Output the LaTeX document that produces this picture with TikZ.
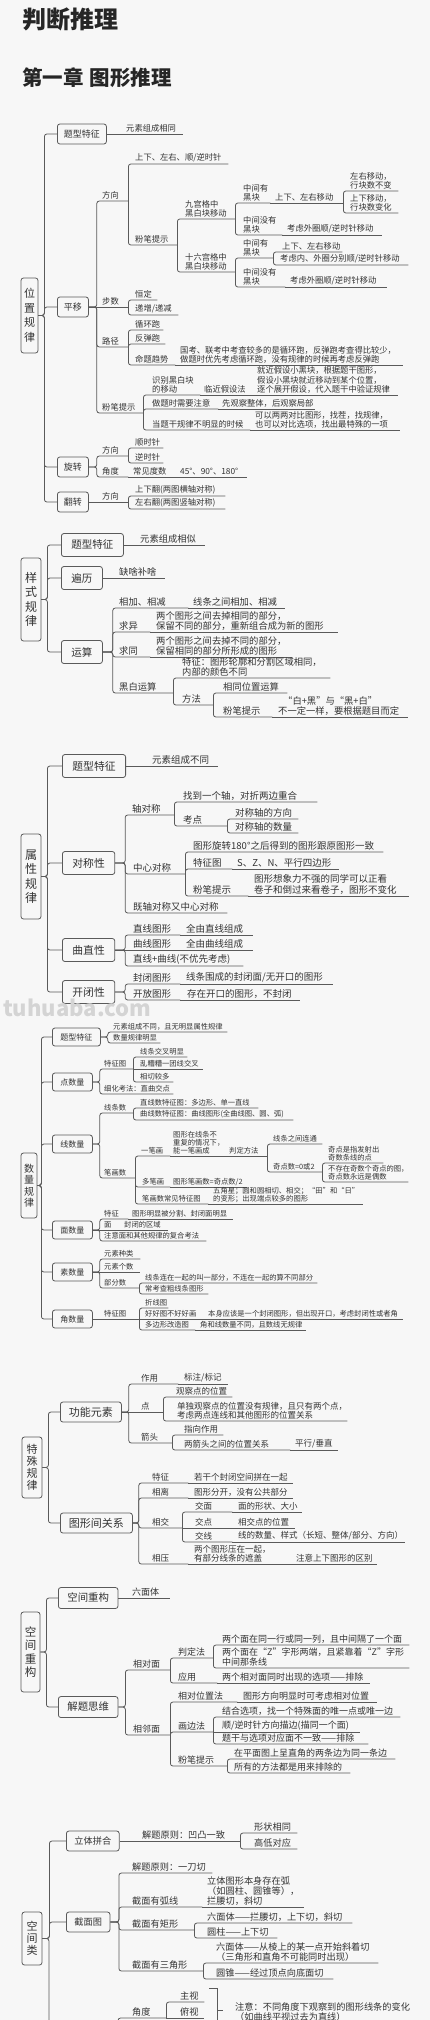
\documentclass[tikz,border=0pt]{standalone}
\usepackage{fontspec}
\setmainfont{Noto Sans CJK SC}
\definecolor{ln}{HTML}{5A5A5A}
\definecolor{txt}{HTML}{333333}
\definecolor{bgc}{HTML}{F7F7F7}
\definecolor{wmc}{HTML}{D4D4D4}
\newcommand\fsz[2]{\fontsize{#1}{#2}\selectfont}
\begin{document}
\begin{tikzpicture}[
  x=1pt, y=-1pt,
  tp/.style={anchor=south west, inner xsep=0pt, inner ysep=1.5pt, align=left, text=txt},
  bx/.style={draw=ln, line width=0.8pt, rounded corners=2.5pt, anchor=west, text=txt},
  rootbox/.style={draw=ln, line width=0.8pt, rounded corners=2.5pt, inner sep=0pt, align=center, text=txt},
  conn/.style={draw=ln, line width=0.8pt, rounded corners=2.5pt},
  ttl/.style={anchor=base west, inner sep=0pt, text=black!85}
]
\useasboundingbox (0,0) rectangle (430,2020);
\fill[bgc] (0,0) rectangle (430,2020);

\node (t1) [ttl, font=\fsz{24}{26}\bfseries] at (22,29) {判断推理};
\node (t2) [ttl, font=\fsz{20.5}{22}\bfseries] at (22,86) {第一章\hspace{6pt}图形推理};

\begin{scope}[tp/.append style={font=\fsz{8.3}{9.3}}, bx/.append style={font=\fsz{9}{10}, inner xsep=6.5pt, minimum height=20pt}]
\node (aR) [rootbox, minimum width=17pt, minimum height=75pt, font=\fsz{11}{14.5}] at (29.5,315.5) {位\\置\\规\\律};
\node (aT) [bx] at (57,134) {题型特征};
\node (aP) [bx] at (57,307) {平移};
\node (aX) [bx] at (57,467) {旋转};
\node (aF) [bx] at (57,502) {翻转};
\foreach \n in {aT,aP,aX,aF} \draw[conn] (aR.east) -- ++(6,0) |- (\n.west);

\node (aT1) [tp, text width=57pt] at (126,134) {元素组成相同};
\draw[conn] (aT.east) -- (aT1.south east);

\node (aP1) [tp, text width=26pt] at (102,201) {方向};
\node (aP2) [tp, text width=26pt] at (102,307) {步数};
\node (aP3) [tp, text width=26pt] at (102,347) {路径};
\node (aP4) [tp, text width=41pt] at (102,413) {粉笔提示};
\foreach \n in {aP1,aP3,aP4} \draw[conn] (aP.east) -- ++(8,0) |- (\n.south east);
\draw[conn] (aP.east) -- (aP2.south east);

\node (aP11) [tp, text width=93pt] at (135,164) {上下、左右、顺/逆时针};
\node (aP12) [tp, text width=42pt] at (135,245) {粉笔提示};
\foreach \n in {aP11,aP12} \draw[conn] (aP1.south east) |- (\n.south east);
\node (aP121) [tp, text width=50pt] at (185,219) {九宫格中\\黑白块移动};
\node (aP122) [tp, text width=50pt] at (185,272) {十六宫格中\\黑白块移动};
\foreach \n in {aP121,aP122} \draw[conn] (aP12.south east) |- (\n.south east);
\node (aP1211) [tp, text width=27pt] at (243,203) {中间有\\黑块};
\node (aP1212) [tp, text width=39pt] at (243,235) {中间没有\\黑块};
\foreach \n in {aP1211,aP1212} \draw[conn] (aP121.south east) |- (\n.south east);
\node (aQ1) [tp, text width=68pt] at (275,203) {上下、左右移动};
\draw[conn] (aP1211.south east) -- (aQ1.south east);
\node (aQ11) [tp, text width=48pt] at (350,191) {左右移动，\\行块数不变};
\node (aQ12) [tp, text width=48pt] at (350,213) {上下移动，\\行块数变化};
\foreach \n in {aQ11,aQ12} \draw[conn] (aQ1.south east) |- (\n.south east);
\node (aQ2) [tp, text width=95pt] at (287,235) {考虑外圈顺/逆时针移动};
\draw[conn] (aP1212.south east) -- (aQ2.south east);
\node (aP1221) [tp, text width=30pt] at (243,258) {中间有\\黑块};
\node (aP1222) [tp, text width=42pt] at (243,287) {中间没有\\黑块};
\foreach \n in {aP1221,aP1222} \draw[conn] (aP122.south east) |- (\n.south east);
\node (aQ3) [tp, text width=60pt] at (282,252) {上下、左右移动};
\node (aQ4) [tp, text width=128pt] at (280,265) {考虑内、外圈分别顺/逆时针移动};
\foreach \n in {aQ3,aQ4} \draw[conn] (aP1221.south east) |- (\n.south east);
\node (aQ5) [tp, text width=97pt] at (290,287) {考虑外圈顺/逆时针移动};
\draw[conn] (aP1222.south east) -- (aQ5.south east);

\node (aP21) [tp, text width=22pt] at (135,300) {恒定};
\node (aP22) [tp, text width=43pt] at (135,315) {递增/递减};
\foreach \n in {aP21,aP22} \draw[conn] (aP2.south east) |- (\n.south east);
\node (aP31) [tp, text width=28pt] at (135,330) {循环跑};
\node (aP32) [tp, text width=30pt] at (135,344) {反弹跑};
\node (aP33) [tp, text width=40pt] at (135,365) {命题趋势};
\foreach \n in {aP31,aP32,aP33} \draw[conn] (aP3.south east) |- (\n.south east);
\node (aP331) [tp, text width=223pt] at (180,365) {国考、联考中考查较多的是循环跑，反弹跑考查得比较少，\\做题时优先考虑循环跑，没有规律的时候再考虑反弹跑};
\draw[conn] (aP33.south east) -- (aP331.south east);

\node (aP41) [tp, text width=48pt] at (152,395) {识别黑白块\\的移动};
\node (aP42) [tp, text width=66pt] at (152,409) {做题时需要注意};
\node (aP43) [tp, text width=98pt] at (152,430) {当题干规律不明显的时候};
\foreach \n in {aP41,aP42,aP43} \draw[conn] (aP4.south east) |- (\n.south east);
\node (aP411) [tp, text width=49pt] at (204,395) {临近假设法};
\node (aP412) [tp, text width=141pt] at (257,395) {就近假设小黑块，根据题干图形，\\假设小黑块就近移动到某个位置，\\逐个展开假设，代入题干中验证规律};
\draw[conn] (aP41.south east) -- (aP411.south east);
\draw[conn] (aP411.south east) -- (aP412.south east);
\node (aP421) [tp, text width=93pt] at (222,409) {先观察整体，后观察局部};
\draw[conn] (aP42.south east) -- (aP421.south east);
\node (aP431) [tp, text width=145pt] at (255,430) {可以两两对比图形，找茬，找规律，\\也可以对比选项，找出最特殊的一项};
\draw[conn] (aP43.south east) -- (aP431.south east);

\node (aX1) [tp, text width=26pt] at (102,456) {方向};
\node (aX2) [tp, text width=26pt] at (102,477) {角度};
\foreach \n in {aX1,aX2} \draw[conn] (aX.east) -- ++(8,0) |- (\n.south east);
\node (aX11) [tp, text width=28pt] at (135,448) {顺时针};
\node (aX12) [tp, text width=28pt] at (135,463) {逆时针};
\foreach \n in {aX11,aX12} \draw[conn] (aX1.south east) |- (\n.south east);
\node (aX21) [tp, text width=39pt] at (133,477) {常见度数};
\node (aX22) [tp, text width=67pt] at (180,477) {45°、90°、180°};
\draw[conn] (aX2.south east) -- (aX21.south east);
\draw[conn] (aX21.south east) -- (aX22.south east);

\node (aF1) [tp, text width=26pt] at (102,502) {方向};
\draw[conn] (aF.east) -- (aF1.south east);
\node (aF11) [tp, text width=90pt] at (135,496) {上下翻(两图横轴对称)};
\node (aF12) [tp, text width=90pt] at (135,509) {左右翻(两图竖轴对称)};
\foreach \n in {aF11,aF12} \draw[conn] (aF1.south east) |- (\n.south east);
\end{scope}

\begin{scope}[tp/.append style={font=\fsz{9.3}{10}}, bx/.append style={font=\fsz{10.5}{11}, inner xsep=10pt, minimum height=23pt}]
\node (bR) [rootbox, minimum width=20pt, minimum height=83pt, font=\fsz{12}{14.5}] at (31,599.5) {样\\式\\规\\律};
\node (bT) [bx] at (61,545) {题型特征};
\node (bB) [bx] at (61,578) {遍历};
\node (bY) [bx] at (61,652) {运算};
\foreach \n in {bT,bB,bY} \draw[conn] (bR.east) -- ++(6,0) |- (\n.west);

\node (bT1) [tp, text width=65pt] at (140,545) {元素组成相似};
\draw[conn] (bT.east) -- (bT1.south east);
\node (bB1) [tp, text width=46pt] at (119,578) {缺啥补啥};
\draw[conn] (bB.east) -- (bB1.south east);

\node (bY1) [tp, text width=69pt] at (119,608) {相加、相减};
\node (bY2) [tp, text width=31pt] at (119,632) {求异};
\node (bY3) [tp, text width=31pt] at (119,657) {求同};
\node (bY4) [tp, text width=54pt] at (119,693) {黑白运算};
\foreach \n in {bY1,bY2,bY3,bY4} \draw[conn] (bY.east) -- ++(10,0) |- (\n.south east);
\node (bY11) [tp, text width=92pt] at (193,608) {线条之间相加、相减};
\draw[conn] (bY1.south east) -- (bY11.south east);
\node (bY21) [tp, text width=182pt] at (156,632) {两个图形之间去掉相同的部分，\\保留不同的部分，重新组合成为新的图形};
\draw[conn] (bY2.south east) -- (bY21.south east);
\node (bY31) [tp, text width=136pt] at (156,657) {两个图形之间去掉不同的部分，\\保留相同的部分所形成的图形};
\draw[conn] (bY3.south east) -- (bY31.south east);
\node (bY41) [tp, text width=148pt] at (182,678) {特征：图形轮廓和分割区域相同，\\内部的颜色不同};
\node (bY42) [tp, text width=31pt] at (182,705) {方法};
\foreach \n in {bY41,bY42} \draw[conn] (bY4.south east) |- (\n.south east);
\node (bY421) [tp, text width=64pt] at (223,693) {相同位置运算};
\node (bY422) [tp, text width=49pt] at (223,717) {粉笔提示};
\foreach \n in {bY421,bY422} \draw[conn] (bY42.south east) |- (\n.south east);
\node (bY4221) [tp, text width=130pt] at (278,717) {\hspace*{5pt}“白+黑”与“黑+白”\\不一定一样，要根据题目而定};
\draw[conn] (bY422.south east) -- (bY4221.south east);
\end{scope}

\begin{scope}[tp/.append style={font=\fsz{9.5}{10.3}}, bx/.append style={font=\fsz{10.8}{11}, inner xsep=10pt, minimum height=23pt}]
\node (cR) [rootbox, minimum width=20pt, minimum height=85pt, font=\fsz{12}{14.5}] at (31,876.5) {属\\性\\规\\律};
\node (cT) [bx] at (62,766) {题型特征};
\node (cS) [bx] at (62,863) {对称性};
\node (cQ) [bx] at (62,950) {曲直性};
\node (cK) [bx] at (62,992) {开闭性};
\foreach \n in {cT,cS,cQ,cK} \draw[conn] (cR.east) -- ++(6,0) |- (\n.west);

\node (cT1) [tp, text width=66pt] at (152,766) {元素组成不同};
\draw[conn] (cT.east) -- (cT1.south east);

\node (cS1) [tp, text width=42pt] at (132,815) {轴对称};
\node (cS2) [tp, text width=52pt] at (133,874) {中心对称};
\node (cS3) [tp, text width=94pt] at (133,913) {既轴对称又中心对称};
\foreach \n in {cS1,cS2,cS3} \draw[conn] (cS.east) -- ++(10,0) |- (\n.south east);
\node (cS11) [tp, text width=134pt] at (183,802) {找到一个轴，对折两边重合};
\node (cS12) [tp, text width=44pt] at (183,826) {考点};
\foreach \n in {cS11,cS12} \draw[conn] (cS1.south east) |- (\n.south east);
\node (cS121) [tp, text width=63pt] at (235,819) {对称轴的方向};
\node (cS122) [tp, text width=63pt] at (235,833) {对称轴的数量};
\foreach \n in {cS121,cS122} \draw[conn] (cS12.south east) |- (\n.south east);
\node (cS21) [tp, text width=190pt] at (193,852) {图形旋转180°之后得到的图形跟原图形一致};
\node (cS22) [tp, text width=39pt] at (193,869) {特征图};
\node (cS23) [tp, text width=55pt] at (193,896) {粉笔提示};
\foreach \n in {cS21,cS22,cS23} \draw[conn] (cS2.south east) |- (\n.south east);
\node (cS221) [tp, text width=102pt] at (237,869) {S、Z、N、平行四边形};
\draw[conn] (cS22.south east) -- (cS221.south east);
\node (cS231) [tp, text width=155pt] at (254,896) {图形想象力不强的同学可以正看\\卷子和倒过来看卷子，图形不变化};
\draw[conn] (cS23.south east) -- (cS231.south east);

\node (cQ1) [tp, text width=47pt] at (133,935) {直线图形};
\node (cQ2) [tp, text width=47pt] at (133,950) {曲线图形};
\node (cQ3) [tp, text width=110pt] at (133,966) {直线+曲线(不优先考虑)};
\foreach \n in {cQ1,cQ3} \draw[conn] (cQ.east) -- ++(10,0) |- (\n.south east);
\draw[conn] (cQ.east) -- (cQ2.south east);
\node (cQ11) [tp, text width=67pt] at (186,935) {全由直线组成};
\node (cQ21) [tp, text width=67pt] at (186,950) {全由曲线组成};
\draw[conn] (cQ1.south east) -- (cQ11.south east);
\draw[conn] (cQ2.south east) -- (cQ21.south east);

\node (cK1) [tp, text width=47pt] at (133,984) {封闭图形};
\node (cK2) [tp, text width=47pt] at (133,1000) {开放图形};
\foreach \n in {cK1,cK2} \draw[conn] (cK.east) -- ++(10,0) |- (\n.south east);
\node (cK11) [tp, text width=147pt] at (186,984) {线条围成的封闭面/无开口的图形};
\node (cK21) [tp, text width=113pt] at (187,1000) {存在开口的图形，不封闭};
\draw[conn] (cK1.south east) -- (cK11.south east);
\draw[conn] (cK2.south east) -- (cK21.south east);
\end{scope}

\node (wm) [anchor=base west, inner sep=0pt, text=wmc, font=\fsz{22}{24}\bfseries] at (3,1016) {tuhuaba.com};

\begin{scope}[tp/.append style={font=\fsz{7.3}{8}}, bx/.append style={font=\fsz{8}{9}, inner xsep=8pt, minimum height=18pt}]
\node (dR) [rootbox, minimum width=16pt, minimum height=65pt, font=\fsz{10}{11.5}] at (29,1185.5) {数\\量\\规\\律};
\node (dT) [bx] at (52,1037) {题型特征};
\node (dD) [bx] at (52,1082) {点数量};
\node (dX) [bx] at (52,1144) {线数量};
\node (dM) [bx] at (52,1230) {面数量};
\node (dS) [bx] at (52,1272) {素数量};
\node (dJ) [bx] at (52,1319) {角数量};
\foreach \n in {dT,dD,dX,dM,dS,dJ} \draw[conn] (dR.east) -- ++(4,0) |- (\n.west);

\node (dT1) [tp, text width=114pt] at (113,1032) {元素组成不同，且无明显属性规律};
\node (dT2) [tp, text width=47pt] at (113,1043) {数量规律明显};
\foreach \n in {dT1,dT2} \draw[conn] (dT.east) -- ++(7,0) |- (\n.south east);

\node (dD1) [tp, text width=29pt] at (104,1069) {特征图};
\node (dD2) [tp, text width=69pt] at (104,1094) {细化考法：直曲交点};
\foreach \n in {dD1,dD2} \draw[conn] (dD.east) -- ++(7,0) |- (\n.south east);
\node (dD11) [tp, text width=47pt] at (140,1057) {线条交叉明显};
\node (dD12) [tp, text width=63pt] at (140,1069) {乱糟糟一团线交叉};
\node (dD13) [tp, text width=33pt] at (140,1082) {相切较多};
\foreach \n in {dD11,dD13} \draw[conn] (dD1.south east) |- (\n.south east);
\draw[conn] (dD1.south east) -- (dD12.south east);

\node (dX1) [tp, text width=29pt] at (104,1113) {线条数};
\node (dX2) [tp, text width=31pt] at (104,1178) {笔画数};
\foreach \n in {dX1,dX2} \draw[conn] (dX.east) -- ++(7,0) |- (\n.south east);
\node (dX11) [tp, text width=118pt] at (140,1108) {直线数特征图：多边形、单一直线};
\node (dX12) [tp, text width=153pt] at (140,1120) {曲线数特征图：曲线图形(全曲线图、圆、弧)};
\foreach \n in {dX11,dX12} \draw[conn] (dX1.south east) |- (\n.south east);
\node (dX21) [tp, text width=29pt] at (141,1156) {一笔画};
\node (dX22) [tp, text width=28pt] at (142,1187) {多笔画};
\node (dX23) [tp, text width=66pt] at (142,1204) {笔画数常见特征图};
\foreach \n in {dX21,dX22,dX23} \draw[conn] (dX2.south east) |- (\n.south east);
\node (dX211) [tp, text width=52pt] at (173,1156) {图形在线条不\\重复的情况下，\\能一笔画成};
\node (dX212) [tp, text width=38pt] at (229,1156) {判定方法};
\draw[conn] (dX21.south east) -- (dX211.south east);
\draw[conn] (dX211.south east) -- (dX212.south east);
\node (dX2121) [tp, text width=49pt] at (273,1144) {线条之间连通};
\node (dX2122) [tp, text width=49pt] at (273,1172) {奇点数=0或2};
\foreach \n in {dX2121,dX2122} \draw[conn] (dX212.south east) |- (\n.south east);
\node (dX21221) [tp, text width=55pt] at (328,1163) {奇点是指发射出\\奇数条线的点};
\node (dX21222) [tp, text width=80pt] at (328,1182) {不存在奇数个奇点的图，\\奇点数永远是偶数};
\foreach \n in {dX21221,dX21222} \draw[conn] (dX2122.south east) |- (\n.south east);
\node (dX221) [tp, text width=74pt] at (173,1187) {图形笔画数=奇点数/2};
\draw[conn] (dX22.south east) -- (dX221.south east);
\node (dX231) [tp, text width=150pt] at (213,1204) {五角星；圆和圆相切、相交；“田”和“日”\\的变形；出现端点较多的图形};
\draw[conn] (dX23.south east) -- (dX231.south east);

\node (dM1) [tp, text width=24pt] at (104,1219) {特征};
\node (dM2) [tp, text width=16pt] at (104,1230) {面};
\node (dM3) [tp, text width=102pt] at (104,1241) {注意面和其他规律的复合考法};
\foreach \n in {dM1,dM3} \draw[conn] (dM.east) -- ++(7,0) |- (\n.south east);
\draw[conn] (dM.east) -- (dM2.south east);
\node (dM11) [tp, text width=101pt] at (132,1219) {图形明显被分割、封闭面明显};
\node (dM21) [tp, text width=44pt] at (124,1230) {封闭的区域};
\draw[conn] (dM1.south east) -- (dM11.south east);
\draw[conn] (dM2.south east) -- (dM21.south east);

\node (dS1) [tp, text width=36pt] at (104,1259) {元素种类};
\node (dS2) [tp, text width=36pt] at (104,1272) {元素个数};
\node (dS3) [tp, text width=35pt] at (104,1288) {部分数};
\foreach \n in {dS1,dS3} \draw[conn] (dS.east) -- ++(7,0) |- (\n.south east);
\draw[conn] (dS.east) -- (dS2.south east);
\node (dS31) [tp, text width=172pt] at (145,1283) {线条连在一起的叫一部分，不连在一起的算不同部分};
\node (dS32) [tp, text width=63pt] at (145,1294) {常考查粗线条图形};
\foreach \n in {dS31,dS32} \draw[conn] (dS3.south east) |- (\n.south east);

\node (dJ1) [tp, text width=35pt] at (104,1319) {特征图};
\draw[conn] (dJ.east) -- (dJ1.south east);
\node (dJ11) [tp, text width=23pt] at (145,1308) {折线图};
\node (dJ12) [tp, text width=58pt] at (145,1319) {好好图不好好画};
\node (dJ13) [tp, text width=50pt] at (145,1330) {多边形改造图};
\foreach \n in {dJ11,dJ13} \draw[conn] (dJ1.south east) |- (\n.south east);
\draw[conn] (dJ1.south east) -- (dJ12.south east);
\node (dJ121) [tp, text width=195pt] at (208,1319) {本身应该是一个封闭图形，但出现开口，考虑封闭性或者角};
\node (dJ131) [tp, text width=106pt] at (200,1330) {角和线数量不同，且数线无规律};
\draw[conn] (dJ12.south east) -- (dJ121.south east);
\draw[conn] (dJ13.south east) -- (dJ131.south east);
\end{scope}

\begin{scope}[tp/.append style={font=\fsz{8.5}{9.3}}, bx/.append style={font=\fsz{11}{12}, inner xsep=8.5pt, minimum height=20pt}]
\node (eR) [rootbox, minimum width=20pt, minimum height=61pt, font=\fsz{11}{12}] at (32,1467.5) {特\\殊\\规\\律};
\node (eG) [bx] at (60,1412) {功能元素};
\node (eX) [bx] at (60,1523) {图形间关系};
\foreach \n in {eG,eX} \draw[conn] (eR.east) -- ++(6,0) |- (\n.west);

\node (eG1) [tp, text width=37pt] at (141,1384) {作用};
\node (eG2) [tp, text width=22pt] at (141,1412) {点};
\node (eG3) [tp, text width=31pt] at (141,1443) {箭头};
\foreach \n in {eG1,eG3} \draw[conn] (eG.east) -- ++(7,0) |- (\n.south east);
\draw[conn] (eG.east) -- (eG2.south east);
\node (eG11) [tp, text width=44pt] at (184,1384) {标注/标记};
\draw[conn] (eG1.south east) -- (eG11.south east);
\node (eG21) [tp, text width=56pt] at (176,1397) {观察点的位置};
\node (eG22) [tp, text width=170pt] at (177,1421) {单独观察点的位置没有规律，且只有两个点，\\考虑两点连线和其他图形的位置关系};
\foreach \n in {eG21,eG22} \draw[conn] (eG2.south east) |- (\n.south east);
\node (eG31) [tp, text width=39pt] at (184,1435) {指向作用};
\node (eG32) [tp, text width=106pt] at (184,1450) {两箭头之间的位置关系};
\foreach \n in {eG31,eG32} \draw[conn] (eG3.south east) |- (\n.south east);
\node (eG321) [tp, text width=43pt] at (295,1450) {平行/垂直};
\draw[conn] (eG32.south east) -- (eG321.south east);

\node (eX1) [tp, text width=36pt] at (152,1483) {特征};
\node (eX2) [tp, text width=36pt] at (152,1498) {相离};
\node (eX3) [tp, text width=30pt] at (152,1528) {相交};
\node (eX4) [tp, text width=36pt] at (152,1564) {相压};
\foreach \n in {eX1,eX2,eX3,eX4} \draw[conn] (eX.east) -- ++(6,0) |- (\n.south east);
\node (eX11) [tp, text width=99pt] at (194,1483) {若干个封闭空间拼在一起};
\node (eX21) [tp, text width=99pt] at (194,1498) {图形分开，没有公共部分};
\draw[conn] (eX1.south east) -- (eX11.south east);
\draw[conn] (eX2.south east) -- (eX21.south east);
\node (eX31) [tp, text width=37pt] at (195,1512) {交面};
\node (eX32) [tp, text width=37pt] at (195,1528) {交点};
\node (eX33) [tp, text width=37pt] at (195,1542) {交线};
\foreach \n in {eX31,eX33} \draw[conn] (eX3.south east) |- (\n.south east);
\draw[conn] (eX3.south east) -- (eX32.south east);
\node (eX311) [tp, text width=64pt] at (238,1512) {面的形状、大小};
\node (eX321) [tp, text width=57pt] at (238,1528) {相交点的位置};
\node (eX331) [tp, text width=167pt] at (238,1542) {线的数量、样式（长短、整体/部分、方向）};
\draw[conn] (eX31.south east) -- (eX311.south east);
\draw[conn] (eX32.south east) -- (eX321.south east);
\draw[conn] (eX33.south east) -- (eX331.south east);
\node (eX41) [tp, text width=96pt] at (194,1564) {两个图形压在一起，\\有部分线条的遮盖};
\node (eX42) [tp, text width=81pt] at (296,1564) {注意上下图形的区别};
\draw[conn] (eX4.south east) -- (eX41.south east);
\draw[conn] (eX41.south east) -- (eX42.south east);
\end{scope}

\begin{scope}[tp/.append style={font=\fsz{9}{9.8}}, bx/.append style={font=\fsz{10.4}{11}, inner xsep=9pt, minimum height=21pt}]
\node (fR) [rootbox, minimum width=19pt, minimum height=80pt, font=\fsz{11.5}{13.5}] at (30.5,1652) {空\\间\\重\\构};
\node (fC) [bx] at (58,1598) {空间重构};
\node (fS) [bx] at (58,1707) {解题思维};
\foreach \n in {fC,fS} \draw[conn] (fR.east) -- ++(6,0) |- (\n.west);

\node (fC1) [tp, text width=38pt] at (132,1598) {六面体};
\draw[conn] (fC.east) -- (fC1.south east);

\node (fS1) [tp, text width=37pt] at (133,1670) {相对面};
\node (fS2) [tp, text width=37pt] at (133,1735) {相邻面};
\foreach \n in {fS1,fS2} \draw[conn] (fS.east) -- ++(7,0) |- (\n.south east);
\node (fS11) [tp, text width=35pt] at (178,1658) {判定法};
\node (fS12) [tp, text width=39pt] at (178,1683) {应用};
\foreach \n in {fS11,fS12} \draw[conn] (fS1.south east) |- (\n.south east);
\node (fS111) [tp, text width=187pt] at (222,1645) {两个面在同一行或同一列，且中间隔了一个面};
\node (fS112) [tp, text width=187pt] at (222,1668) {两个面在“Z”字形两端，且紧靠着“Z”字形\\中间那条线};
\foreach \n in {fS111,fS112} \draw[conn] (fS11.south east) |- (\n.south east);
\node (fS121) [tp, text width=148pt] at (222,1683) {两个相对面同时出现的选项——排除};
\draw[conn] (fS12.south east) -- (fS121.south east);

\node (fS21) [tp, text width=59pt] at (178,1702) {相对位置法};
\node (fS22) [tp, text width=35pt] at (178,1732) {画边法};
\node (fS23) [tp, text width=49pt] at (178,1766) {粉笔提示};
\foreach \n in {fS21,fS22,fS23} \draw[conn] (fS2.south east) |- (\n.south east);
\node (fS211) [tp, text width=134pt] at (243,1702) {图形方向明显时可考虑相对位置};
\draw[conn] (fS21.south east) -- (fS211.south east);
\node (fS221) [tp, text width=178pt] at (222,1717) {结合选项，找一个特殊面的唯一点或唯一边};
\node (fS222) [tp, text width=138pt] at (222,1732) {顺/逆时针方向描边(描同一个面)};
\node (fS223) [tp, text width=146pt] at (222,1744) {题干与选项对应面不一致——排除};
\foreach \n in {fS221,fS223} \draw[conn] (fS22.south east) |- (\n.south east);
\draw[conn] (fS22.south east) -- (fS222.south east);
\node (fS231) [tp, text width=161pt] at (234,1759) {在平面图上呈直角的两条边为同一条边};
\node (fS232) [tp, text width=116pt] at (234,1773) {所有的方法都是用来排除的};
\foreach \n in {fS231,fS232} \draw[conn] (fS23.south east) |- (\n.south east);
\end{scope}

\begin{scope}[tp/.append style={font=\fsz{9.2}{10}}, bx/.append style={font=\fsz{9.2}{10}, inner xsep=8pt, minimum height=20pt}]
\node (gR) [rootbox, minimum width=20pt, minimum height=53pt, font=\fsz{11}{11.8}] at (32,1938.5) {空\\间\\类};
\node (gP) [bx] at (66,1841) {立体拼合};
\node (gJ) [bx] at (66,1922) {截面图};
\coordinate (gE) at (49,2040);
\foreach \n in {gP,gJ} \draw[conn] (gR.east) -- ++(7,0) |- (\n.west);
\draw[conn] (gR.east) -| (gE);

\node (gP1) [tp, text width=98pt] at (142,1841) {解题原则：凹凸一致};
\draw[conn] (gP.east) -- (gP1.south east);
\node (gP11) [tp, text width=43pt] at (254,1833) {形状相同};
\node (gP12) [tp, text width=43pt] at (254,1849) {高低对应};
\foreach \n in {gP11,gP12} \draw[conn] (gP1.south east) |- (\n.south east);

\node (gJ1) [tp, text width=80pt] at (132,1873) {解题原则：一刀切};
\node (gJ2) [tp, text width=70pt] at (132,1907) {截面有弧线};
\node (gJ3) [tp, text width=62pt] at (132,1930) {截面有矩形};
\node (gJ4) [tp, text width=71pt] at (132,1971) {截面有三角形};
\foreach \n in {gJ1,gJ2,gJ3,gJ4} \draw[conn] (gJ.east) -- ++(8.5,0) |- (\n.south east);
\node (gJ21) [tp, text width=97pt] at (207,1907) {立体图形本身存在弧\\（如圆柱、圆锥等），\\拦腰切，斜切};
\draw[conn] (gJ2.south east) -- (gJ21.south east);
\node (gJ31) [tp, text width=145pt] at (207,1923) {六面体——拦腰切，上下切，斜切};
\node (gJ32) [tp, text width=70pt] at (207,1938) {圆柱——上下切};
\foreach \n in {gJ31,gJ32} \draw[conn] (gJ3.south east) |- (\n.south east);
\node (gJ41) [tp, text width=162pt] at (216,1963) {六面体——从棱上的某一点开始斜着切\\（三角形和直角不可能同时出现）};
\node (gJ42) [tp, text width=117pt] at (216,1979) {圆锥——经过顶点向底面切};
\foreach \n in {gJ41,gJ42} \draw[conn] (gJ4.south east) |- (\n.south east);

\coordinate (gV) at (118,2040);
\node (gV1) [tp, text width=34pt] at (132,2018) {角度};
\draw[conn] (gV) |- (gV1.south east);
\node (gV11) [tp, text width=24pt] at (180,2002) {主视};
\node (gV12) [tp, text width=24pt] at (180,2018) {俯视};
\draw[conn] (gV1.south east) |- (gV11.south east);
\draw[conn] (gV1.south east) -- (gV12.south east);

\coordinate (gBt) at (209,1988);
\coordinate (gBm) at (217,2010);
\coordinate (gBb) at (217,2040);
\coordinate (gBn) at (223,2010);
\draw[conn, rounded corners=0pt] (gBt) -| (gBb);
\draw[conn] (gBm) -- (gBn);
\node (gN) [tp, anchor=north west, text width=178pt] at (235,2001) {注意：不同角度下观察到的图形线条的变化\\（如曲线平视过去为直线）};
\end{scope}
\end{tikzpicture}
\end{document}
